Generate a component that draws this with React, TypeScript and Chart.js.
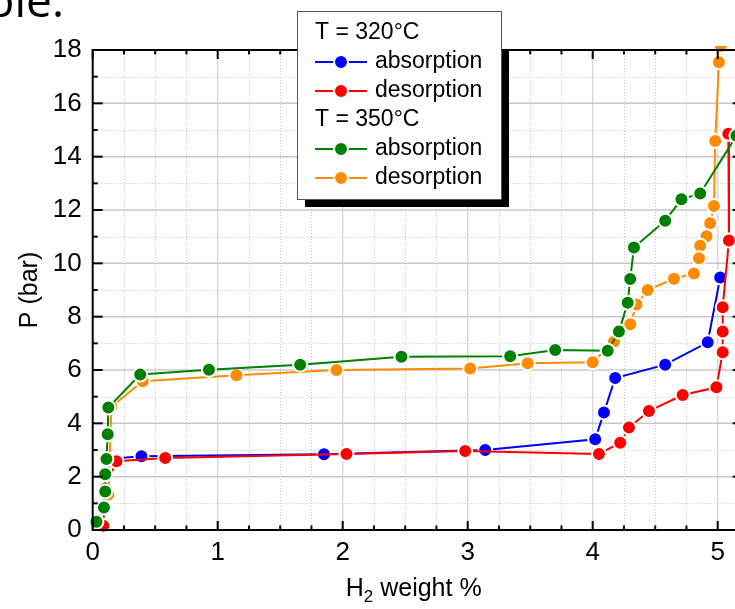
import React, { useEffect, useRef } from 'react';
import { Chart, registerables } from 'chart.js';

Chart.register(...registerables);

// ---- data (H2 weight %, P bar) ----
const abs320X = [0.09, 0.10, 0.10, 0.11, 0.39, 1.85, 3.14, 4.02, 4.09, 4.18, 4.58, 4.92, 5.02];
const abs320Y = [0.90, 1.56, 2.13, 2.66, 2.77, 2.84, 3.00, 3.40, 4.41, 5.70, 6.20, 7.04, 9.47];

const des320X = [5.085, 5.09, 5.04, 5.04, 5.04, 4.99, 4.72, 4.45, 4.29, 4.22, 4.05, 2.98, 2.03, 0.58, 0.19, 0.10, 0.085];
const des320Y = [14.86, 10.86, 8.35, 7.44, 6.67, 5.35, 5.06, 4.46, 3.84, 3.27, 2.85, 2.96, 2.85, 2.70, 2.58, 1.55, 0.16];

const abs350X = [0.03, 0.09, 0.10, 0.10, 0.11, 0.12, 0.125, 0.38, 0.93, 1.66, 2.47, 3.34, 3.70, 4.12, 4.21, 4.28, 4.30, 4.33, 4.58, 4.71, 4.86, 5.15];
const abs350Y = [0.31, 0.84, 1.44, 2.09, 2.66, 3.59, 4.59, 5.83, 6.01, 6.20, 6.50, 6.52, 6.75, 6.72, 7.44, 8.52, 9.41, 10.59, 11.60, 12.40, 12.62, 14.78];

const des350X = [5.025, 5.01, 4.98, 4.97, 4.94, 4.91, 4.86, 4.85, 4.81, 4.65, 4.44, 4.35, 4.30, 4.17, 4.00, 3.48, 3.02, 1.95, 1.15, 0.40, 0.15, 0.125];
const des350Y = [18.15, 17.54, 14.59, 12.15, 11.50, 11.02, 10.66, 10.19, 9.62, 9.42, 9.00, 8.46, 7.72, 7.06, 6.29, 6.25, 6.06, 6.00, 5.80, 5.58, 4.62, 1.33];

const seriesLabels = ['absorption', 'desorption', 'absorption', 'desorption'];
const seriesColors = ['#0000ff', '#ff0000', '#008000', '#ff8c00'];
const groupTitles = ['T = 320°C', 'T = 350°C'];

const xMin = 0;
const xMax = 5.2;
const yMin = 0;
const yMax = 18;
const xMajorStep = 1;
const xMinorStep = 0.25;
const yMajorStep = 2;
const yMinorStep = 1;

const FONT = '"Liberation Sans", Arial, sans-serif';

const toPoints = (xs: number[], ys: number[]) => xs.map((x, i) => ({ x, y: ys[i] }));

function stepsBetween(min: number, max: number, step: number) {
  const out: number[] = [];
  const n = Math.floor((max - min) / step + 1e-9);
  for (let i = 0; i <= n; i++) out.push(+(min + i * step).toFixed(6));
  return out;
}

const isMultiple = (v: number, step: number) => Math.abs(v / step - Math.round(v / step)) < 1e-6;

const framePlugin = {
  id: 'frame',
  beforeDatasetsDraw(chart: any) {
    const { ctx, chartArea: a, scales } = chart;
    const xs = scales.x;
    const ys = scales.y;
    ctx.save();
    // minor dotted grid
    ctx.strokeStyle = '#c4c4c4';
    ctx.lineWidth = 1;
    ctx.setLineDash([1, 2]);
    for (const v of stepsBetween(xMin, xMax, xMinorStep)) {
      if (isMultiple(v, xMajorStep)) continue;
      const px = Math.round(xs.getPixelForValue(v)) + 0.5;
      ctx.beginPath(); ctx.moveTo(px, a.top); ctx.lineTo(px, a.bottom); ctx.stroke();
    }
    for (const v of stepsBetween(yMin, yMax, yMinorStep)) {
      if (isMultiple(v, yMajorStep)) continue;
      const py = Math.round(ys.getPixelForValue(v)) + 0.5;
      ctx.beginPath(); ctx.moveTo(a.left, py); ctx.lineTo(a.right, py); ctx.stroke();
    }
    // major solid grid
    ctx.setLineDash([]);
    ctx.lineWidth = 1.5;
    ctx.strokeStyle = '#d9d9d9';
    for (const v of stepsBetween(xMin, xMax, xMajorStep)) {
      if (v === xMin) continue;
      const px = xs.getPixelForValue(v);
      ctx.beginPath(); ctx.moveTo(px, a.top); ctx.lineTo(px, a.bottom); ctx.stroke();
    }
    ctx.strokeStyle = '#c8c8c8';
    for (const v of stepsBetween(yMin, yMax, yMajorStep)) {
      if (v === yMin || v === yMax) continue;
      const py = ys.getPixelForValue(v);
      ctx.beginPath(); ctx.moveTo(a.left, py); ctx.lineTo(a.right, py); ctx.stroke();
    }
    ctx.restore();
  },
  afterDatasetsDraw(chart: any) {
    const { ctx, chartArea: a, scales } = chart;
    const xs = scales.x;
    const ys = scales.y;
    ctx.save();
    ctx.strokeStyle = '#000';
    ctx.lineWidth = 2;
    ctx.strokeRect(a.left, a.top, a.right - a.left, a.bottom - a.top);
    ctx.lineWidth = 2;
    for (const v of stepsBetween(xMin, xMax, xMinorStep)) {
      const major = isMultiple(v, xMajorStep);
      const len = major ? 9 : 4.5;
      const px = xs.getPixelForValue(v);
      ctx.beginPath(); ctx.moveTo(px, a.bottom); ctx.lineTo(px, a.bottom - len); ctx.stroke();
      ctx.beginPath(); ctx.moveTo(px, a.top); ctx.lineTo(px, a.top + len); ctx.stroke();
    }
    for (const v of stepsBetween(yMin, yMax, yMinorStep)) {
      const major = isMultiple(v, yMajorStep);
      const len = major ? 10 : 5;
      const py = ys.getPixelForValue(v);
      ctx.beginPath(); ctx.moveTo(a.left, py); ctx.lineTo(a.left + len, py); ctx.stroke();
      ctx.beginPath(); ctx.moveTo(a.right, py); ctx.lineTo(a.right - len, py); ctx.stroke();
    }
    ctx.restore();
  },
  afterDraw(chart: any) {
    const { ctx, chartArea: a } = chart;
    ctx.save();
    // slide text fragment
    ctx.fillStyle = '#000';
    ctx.font = '46px "Open Sans", sans-serif';
    ctx.textAlign = 'right';
    ctx.textBaseline = 'alphabetic';
    ctx.fillText('ble.', 64, 17);

    // axis titles
    ctx.font = `25px ${FONT}`;
    ctx.textAlign = 'center';
    ctx.textBaseline = 'middle';
    ctx.save();
    ctx.translate(30, (a.top + a.bottom) / 2);
    ctx.rotate(-Math.PI / 2);
    ctx.fillText('P (bar)', 0, 0);
    ctx.restore();

    const big = `25px ${FONT}`;
    const small = `17px ${FONT}`;
    ctx.textAlign = 'left';
    ctx.textBaseline = 'alphabetic';
    ctx.font = big; const wH = ctx.measureText('H').width;
    ctx.font = small; const w2 = ctx.measureText('2').width;
    ctx.font = big; const wRest = ctx.measureText(' weight %').width;
    const total = wH + w2 + wRest;
    const cx = (a.left + a.right) / 2 - 4;
    let tx = cx - total / 2;
    const base = a.bottom + 66;
    ctx.font = big; ctx.fillText('H', tx, base); tx += wH;
    ctx.font = small; ctx.fillText('2', tx, base + 6); tx += w2;
    ctx.font = big; ctx.fillText(' weight %', tx, base);

    // legend box
    const bx = 297, by = 11, bw = 204, bh = 188;
    ctx.save();
    ctx.beginPath();
    ctx.rect(a.left, a.top, a.right - a.left, a.bottom - a.top);
    ctx.clip();
    ctx.fillStyle = '#000';
    ctx.fillRect(bx + 8, by + 8, bw, bh);
    ctx.restore();
    ctx.fillStyle = '#fff';
    ctx.fillRect(bx, by, bw, bh);
    ctx.strokeStyle = '#555';
    ctx.lineWidth = 1;
    ctx.strokeRect(bx + 0.5, by + 0.5, bw, bh);

    ctx.font = `23px ${FONT}`;
    ctx.textBaseline = 'middle';
    ctx.fillStyle = '#000';
    const rowH = 29;
    let row = 0;
    const rowY = (r: number) => 33 + r * rowH;
    const datasets = chart.data.datasets;
    for (let g = 0; g < 2; g++) {
      ctx.fillStyle = '#000';
      ctx.fillText(groupTitles[g], 315, rowY(row));
      row++;
      for (let k = 0; k < 2; k++) {
        const ds = datasets[g * 2 + k];
        const y = rowY(row);
        ctx.strokeStyle = ds.borderColor;
        ctx.lineWidth = 2;
        ctx.beginPath(); ctx.moveTo(315, y); ctx.lineTo(367, y); ctx.stroke();
        ctx.beginPath(); ctx.arc(341, y, 7, 0, Math.PI * 2);
        ctx.fillStyle = ds.borderColor; ctx.fill();
        ctx.strokeStyle = '#fff'; ctx.lineWidth = 2; ctx.stroke();
        ctx.fillStyle = '#000';
        ctx.fillText(ds.label, 375, y);
        row++;
      }
    }
    ctx.restore();
  },
};

export default function App() {
  const ref = useRef<HTMLCanvasElement | null>(null);
  useEffect(() => {
    if (!ref.current) return;
    const mk = (i: number, xs: number[], ys: number[], order: number) => ({
      label: seriesLabels[i],
      data: toPoints(xs, ys),
      showLine: true,
      borderColor: seriesColors[i],
      backgroundColor: seriesColors[i],
      pointBackgroundColor: seriesColors[i],
      pointBorderColor: '#ffffff',
      pointBorderWidth: 2,
      pointRadius: 7,
      borderWidth: 2,
      tension: 0,
      order,
      clip: 4,
    });
    const chart = new Chart(ref.current, {
      type: 'scatter',
      data: {
        datasets: [
          mk(0, abs320X, abs320Y, 3),
          mk(1, des320X, des320Y, 2),
          mk(2, abs350X, abs350Y, 0),
          mk(3, des350X, des350Y, 1),
        ],
      },
      options: {
        animation: false,
        responsive: false,
        events: [],
        layout: { padding: { top: 50, right: 760 - 742.7, left: 0, bottom: 0 } },
        plugins: { legend: { display: false }, tooltip: { enabled: false } },
        scales: {
          x: {
            type: 'linear',
            min: xMin,
            max: xMax,
            grid: { display: false, drawTicks: false },
            border: { display: false },
            ticks: {
              stepSize: xMajorStep,
              includeBounds: false,
              padding: 7,
              color: '#000',
              font: { family: FONT, size: 26 },
              callback: (v: any) => (Number.isInteger(v) ? String(v) : ''),
            },
            afterFit: (s: any) => { s.height = 79; },
          },
          y: {
            type: 'linear',
            min: yMin,
            max: yMax,
            grid: { display: false, drawTicks: false },
            border: { display: false },
            ticks: {
              stepSize: yMajorStep,
              padding: 11,
              color: '#000',
              font: { family: FONT, size: 26 },
            },
            afterFit: (s: any) => { s.width = 92.7; },
          },
        },
      },
      plugins: [framePlugin],
    } as any);
    return () => chart.destroy();
  }, []);
  return (
    <div style={{ position: 'fixed', left: 0, top: 0, width: 735, height: 609, overflow: 'hidden', background: '#fff' }}>
      <canvas ref={ref} width={760} height={609} style={{ display: 'block', width: 760, height: 609 }} />
    </div>
  );
}
